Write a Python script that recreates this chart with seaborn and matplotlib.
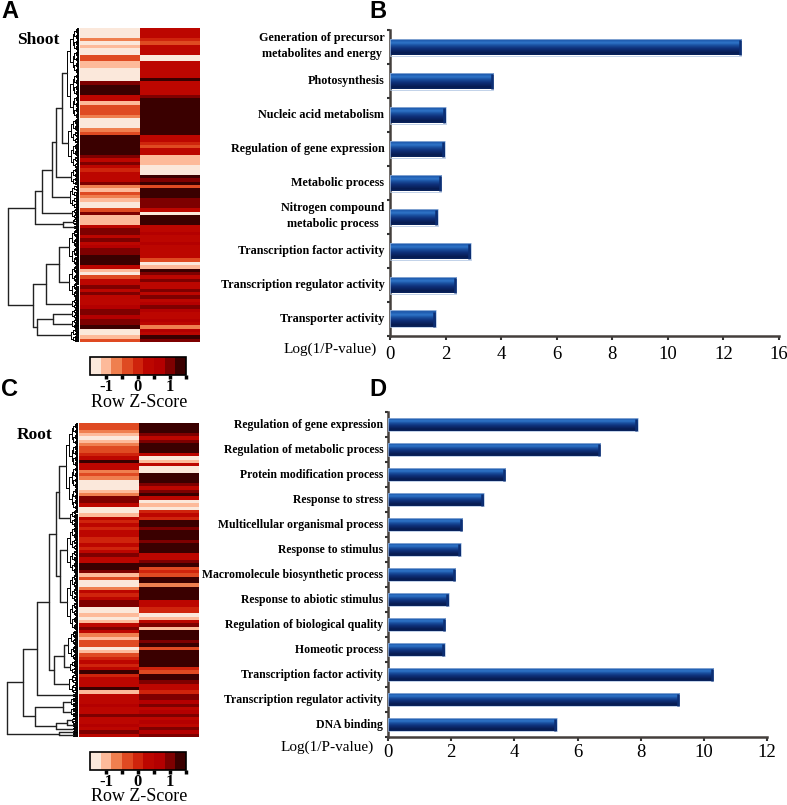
import numpy as np
import pandas as pd
import matplotlib
matplotlib.use("Agg")
import matplotlib.pyplot as plt
from matplotlib.colors import ListedColormap, LinearSegmentedColormap
from matplotlib.transforms import ScaledTranslation
import seaborn as sns

# row colours of the heatmaps, read as colour-key levels 0 (pale) to 8 (darkest)
shoot_left = [0,0,0,2,0,1,0,0,3,3,1,1,0,0,0,0,7,8,8,8,5,5,1,3,3,3,2,0,0,0,2,3,8,8,8,8,8,8,7,5,
              7,5,4,5,5,5,7,2,1,3,2,1,0,0,3,7,1,1,1,5,7,7,5,7,5,6,7,7,8,8,8,5,1,0,3,5,5,7,5,7,
              5,5,5,6,7,7,6,7,7,8,0,0,1,3]
shoot_right = [5,5,5,4,3,5,5,5,0,0,5,5,5,5,5,8,5,5,5,5,7,8,8,8,8,8,8,8,8,8,8,8,5,5,4,3,5,5,1,1,
               1,0,0,0,8,7,8,3,8,8,8,7,7,7,5,0,8,8,8,5,5,6,5,5,6,5,5,5,5,3,0,1,8,7,5,7,5,5,7,5,
               7,5,6,7,6,5,5,6,5,2,6,5,8,7]
root_left = [3,3,2,1,0,1,2,3,3,4,5,8,5,5,2,3,2,0,0,0,1,2,7,7,5,0,0,1,5,4,5,4,5,5,4,4,5,4,5,7,
             5,5,8,8,7,1,3,0,0,2,5,4,5,7,7,0,0,1,0,1,5,7,5,2,1,3,3,0,1,3,4,5,4,5,8,4,5,5,5,8,
             1,5,5,5,6,5,5,7,5,5,6,5,7,5]
root_right = [8,8,8,7,5,7,8,8,8,5,0,1,5,0,0,8,8,8,7,5,7,8,5,0,1,0,4,5,4,8,8,7,8,8,8,7,8,8,8,5,
              5,7,8,3,4,3,8,8,2,8,8,8,8,5,5,4,4,0,1,5,7,1,8,8,8,7,8,3,8,8,8,8,8,4,3,8,8,7,5,5,
              4,7,7,6,7,5,6,7,5,6,5,7,6,7]
level_colors = ["#FBE8DB", "#FDBA9A", "#EF7F4F", "#DF4A22", "#CF240C",
                "#BC0600", "#B40000", "#7E0000", "#3A0000"]

# dendrograms: (height, upper, lower), a plain number is a bunch of that many rows
shoot_tree = (71,
              (44, (37, (27, (23, (17, 27, 15), 5), 7), 3), (16, 2, 1)),
              (46, (33, (20, 11, 10), 3), (42, (26, 3, 3), 4)))
root_tree = (71,
             (55,
              (41, (29, (22, (19, 26, 5), (18, 14, 17)), (24, (14, 9, 4), 6)), 1),
              (43, (15, 3, 3), (22, (11, 2, 1), 1))),
             (19, 1, 1))

# enrichment bars
shoot_terms = ["Generation of precursor\nmetabolites and energy", "Photosynthesis",
               "Nucleic acid metabolism", "Regulation of gene expression", "Metabolic process",
               "Nitrogen compound\nmetabolic process", "Transcription factor activity",
               "Transcription regulator activity", "Transporter activity"]
shoot_values = [12.65, 3.72, 2.0, 1.97, 1.85, 1.72, 2.9, 2.38, 1.65]
root_terms = ["Regulation of gene expression", "Regulation of metabolic process",
              "Protein modification process", "Response to stress",
              "Multicellular organismal process", "Response to stimulus",
              "Macromolecule biosynthetic process", "Response to abiotic stimulus",
              "Regulation of biological quality", "Homeotic process",
              "Transcription factor activity", "Transcription regulator activity", "DNA binding"]
root_values = [7.9, 6.72, 3.72, 3.03, 2.35, 2.3, 2.13, 1.93, 1.82, 1.8, 10.3, 9.22, 5.35]
# the top axis jumps from 12 to 16 in one even step
shoot_ticks = [0, 2, 4, 6, 8, 10, 12, 14]
shoot_tick_labels = ["0", "2", "4", "6", "8", "10", "12", "16"]
root_ticks = [0, 2, 4, 6, 8, 10, 12]
root_tick_labels = ["0", "2", "4", "6", "8", "10", "12"]
key_ticks = [-1, -0.5, 0, 0.5, 1, 1.5]
key_labels = ["-1", "", "0", "", "1", ""]

W, H = 787, 805
SERIF = "Liberation Serif"
SANS = "Liberation Sans"
sns.set_style("white")
plt.rcParams["text.color"] = "black"
plt.rcParams["xtick.color"] = "black"
plt.rcParams["ytick.color"] = "black"
fig = plt.figure(figsize=(W / 100, H / 100), dpi=100)


def px_axes(x0, y0, x1, y1):
    return fig.add_axes([x0 / W, 1 - y1 / H, (x1 - x0) / W, (y1 - y0) / H])


def px_text(x, y, s, **kw):
    fig.text(x / W, 1 - y / H, s, **kw)


def draw_bunch(ax, lo, hi, h):
    # rows joined close to the heatmap, split in two until about 1 px apart
    if hi - lo <= 0.34:
        y = (lo + hi) / 2
        ax.plot([0, h], [y, y], color="black", lw=0.7)
        return y
    mid = (lo + hi) / 2
    sub = h * 0.72
    y1 = draw_bunch(ax, lo, mid, sub)
    y2 = draw_bunch(ax, mid, hi, sub)
    ax.plot([h, h], [y1, y2], color="black", lw=0.7)
    ax.plot([sub, h], [y1, y1], color="black", lw=0.7)
    ax.plot([sub, h], [y2, y2], color="black", lw=0.7)
    return (y1 + y2) / 2


def draw_tree(ax, node, start, parent_h):
    # returns y of the node and the next free row
    if isinstance(node, int):
        h = min(parent_h * 0.8, 2 + 1.6 * np.log2(node * 3 + 1))
        y = draw_bunch(ax, start, start + node, h)
        ax.plot([h, parent_h], [y, y], color="#222222", lw=1.0)
        return y, start + node
    h, upper, lower = node
    y1, nxt = draw_tree(ax, upper, start, h)
    y2, nxt = draw_tree(ax, lower, nxt, h)
    y = (y1 + y2) / 2
    ax.plot([h, h], [y1, y2], color="#222222", lw=1.0)
    ax.plot([h, parent_h], [y, y], color="#222222", lw=1.0)
    return y, nxt


def heat_panel(left, right, tree, box, key_box):
    x0, y0, x1, y1 = box
    frame = pd.DataFrame({"a": left, "b": right})
    z = (frame - 4) / 3
    ax = px_axes(x0, y0, x1, y1)
    key = px_axes(*key_box)
    sns.heatmap(z, ax=ax, cmap=ListedColormap(level_colors), vmin=-1.5, vmax=1.5,
                xticklabels=False, yticklabels=False, cbar_ax=key,
                cbar_kws={"orientation": "horizontal", "ticks": key_ticks})
    key.set_xticklabels(key_labels, family=SERIF, fontsize=12, fontweight="bold")
    key.tick_params(axis="x", length=3, width=2.5, color="black", pad=0)
    cbar = ax.collections[0].colorbar
    cbar.outline.set_visible(True)
    cbar.outline.set_edgecolor("black")
    cbar.outline.set_linewidth(1.2)

    den = px_axes(2, y0, x0 - 1, y1)
    draw_tree(den, tree, 0, tree[0])
    den.set_ylim(len(frame), 0)
    den.set_xlim(x0 - 3, 0)
    den.axis("off")


def glossy(ax, bars, cap):
    # blue shaded look of the bars
    cmap = LinearSegmentedColormap.from_list(
        "gloss", [(0, "#5f92d2"), (0.08, "#1b55a8"), (0.28, "#2f74c8"), (0.42, "#1a50a0"),
                  (0.62, "#0e2f78"), (0.88, "#071b50"), (1, "#0a2560")])
    grad = np.linspace(0, 1, 64).reshape(-1, 1)
    for p in bars:
        end = p.get_x() + p.get_width()
        top, bottom = p.get_y(), p.get_y() + p.get_height()
        im = ax.imshow(grad, extent=[p.get_x(), end, bottom, top], aspect="auto", cmap=cmap, zorder=3)
        im.set_clip_path(p)
        p.set_facecolor("none")
        p.set_edgecolor("#a9c0e0")
        p.set_linewidth(0.5)
        p.set_zorder(4)
        ax.plot([end - cap] * 2, [top + 0.04, bottom - 0.02], color="#0d2f74", lw=1.8,
                solid_capstyle="butt", zorder=4)


def bar_panel(terms, values, ticks, tick_labels, box, thickness, label_size, pad, label_pad, lift, xlabel_xy):
    ax = px_axes(*box)
    frame = pd.DataFrame({"term": terms, "value": values})
    sns.barplot(data=frame, x="value", y="term", orient="h", color="#1d5bb0",
                width=thickness, saturation=1, ax=ax)
    glossy(ax, list(ax.patches), 1.5 * (ticks[-1] - ticks[0]) / (box[2] - box[0]))
    ax.set_xlim(ticks[0], ticks[-1])
    ax.set_ylim(len(terms) - 0.5, -0.5)
    ax.set_xlabel("")
    ax.set_ylabel("")
    ax.set_xticks(ticks)
    ax.set_xticklabels(tick_labels, family=SERIF, fontsize=13.5)
    ax.set_yticks(np.arange(len(terms) + 1) - 0.5, minor=True)
    ax.tick_params(axis="x", length=3, width=1.5, color="#333333", pad=pad, bottom=True)
    ax.tick_params(axis="y", which="major", length=0, pad=label_pad)
    ax.tick_params(axis="y", which="minor", length=2, width=1.5, color="#333333", left=True)
    for lab in ax.get_yticklabels():
        lab.set_family(SERIF)
        lab.set_fontweight("bold")
        lab.set_fontsize(label_size)
        lab.set_multialignment("center")
        lab.set_linespacing(1.45)
        up = lift + 2.5 if "\n" in lab.get_text() else lift
        lab.set_transform(lab.get_transform() + ScaledTranslation(0, up / 100, fig.dpi_scale_trans))
    for side in ["top", "right"]:
        ax.spines[side].set_visible(False)
    for side in ["left", "bottom"]:
        ax.spines[side].set_color("#443f3c")
        ax.spines[side].set_linewidth(1.8)
    ax.grid(False)
    px_text(*xlabel_xy, "Log(1/P-value)", family=SERIF, fontsize=11, ha="center", va="center")


heat_panel(shoot_left, shoot_right, shoot_tree, (80, 28, 200, 342), (90, 357, 186, 375))
heat_panel(root_left, root_right, root_tree, (79, 423, 199, 737), (90, 752, 186, 770))
bar_panel(shoot_terms, shoot_values, shoot_ticks, shoot_tick_labels, (390, 30, 779, 336),
          0.5, 8.7, 4, 4, 2, (330, 349))
bar_panel(root_terms, root_values, root_ticks, root_tick_labels, (388, 412, 767, 737),
          0.55, 8.5, 2, 3.5, 1, (327, 747))

for letter, x, y in [("A", 1, 12), ("B", 369, 11), ("C", 1, 389), ("D", 369, 389)]:
    px_text(x, y, letter, family=SANS, fontsize=17, fontweight="bold", va="center")
px_text(17, 40, "Shoot", family=SERIF, fontsize=12.5, fontweight="bold", va="center")
px_text(17, 435, "Root", family=SERIF, fontsize=12.5, fontweight="bold", va="center")
px_text(139, 402, "Row Z-Score", family=SERIF, fontsize=13, ha="center", va="center")
px_text(139, 796, "Row Z-Score", family=SERIF, fontsize=13, ha="center", va="center")

fig.savefig("out.png", dpi=100)
